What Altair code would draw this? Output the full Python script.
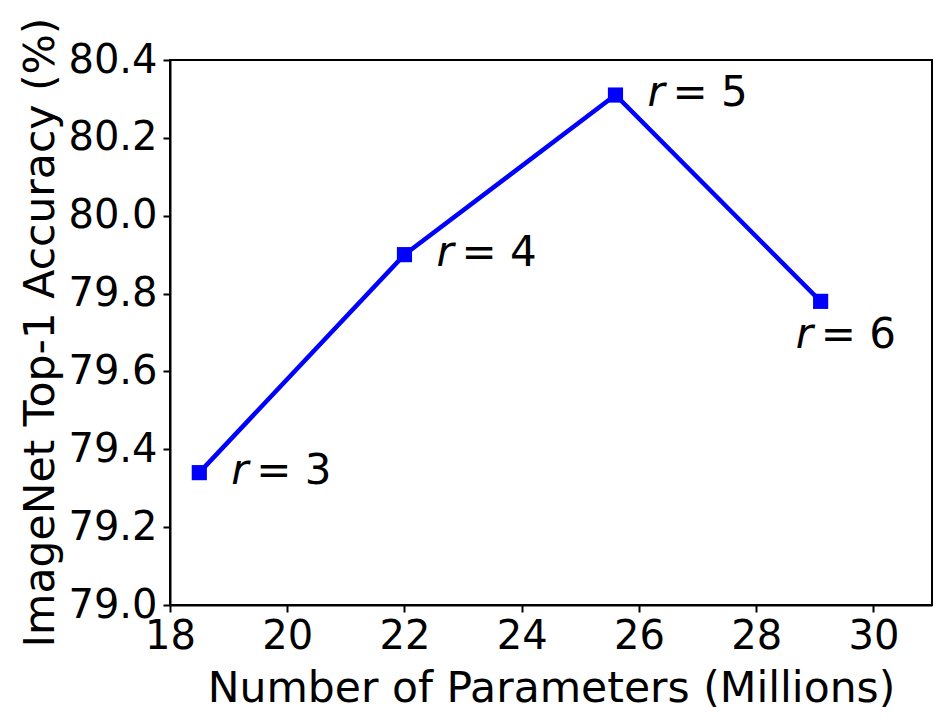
import altair as alt
import pandas as pd

params = [18.5, 22.0, 25.6, 29.1]
acc = [79.34, 79.90, 80.31, 79.78]
r_sym = ["r", "r", "r", "r"]
r_rest = ["= 3", "= 4", "= 5", "= 6"]
side = ["right", "right", "right", "below"]

x_ticks = [18, 20, 22, 24, 26, 28, 30]
y_ticks = [79.0, 79.2, 79.4, 79.6, 79.8, 80.0, 80.2, 80.4]

df = pd.DataFrame({"params": params, "acc": acc, "r": r_sym, "rest": r_rest, "side": side})

FONT = "DejaVu Sans"

x_enc = alt.X("params:Q", scale=alt.Scale(domain=[18, 31], nice=False, zero=False),
              axis=alt.Axis(values=x_ticks, title="Number of Parameters (Millions)", grid=False,
                            format="d"))
y_enc = alt.Y("acc:Q", scale=alt.Scale(domain=[79.0, 80.4], nice=False, zero=False),
              axis=alt.Axis(values=y_ticks, title="ImageNet Top-1 Accuracy (%)", grid=False,
                            format=".1f"))

base = alt.Chart(df).encode(x=x_enc, y=y_enc)

line = base.mark_line(color="#0000FF", strokeWidth=4.5)
pts = base.mark_square(color="#0000FF", size=230, opacity=1)

right = base.transform_filter(alt.datum.side == "right")
below = base.transform_filter(alt.datum.side == "below")

ann_size = 42
t1 = right.mark_text(align="left", baseline="middle", dx=32, dy=-2, font=FONT, fontSize=ann_size,
                     fontStyle="italic", color="black").encode(text="r:N")
t2 = right.mark_text(align="left", baseline="middle", dx=57, dy=-2, font=FONT, fontSize=ann_size,
                     color="black").encode(text="rest:N")
t3 = below.mark_text(align="left", baseline="middle", dx=-25, dy=34, font=FONT, fontSize=ann_size,
                     fontStyle="italic", color="black").encode(text="r:N")
t4 = below.mark_text(align="left", baseline="middle", dx=0, dy=34, font=FONT, fontSize=ann_size,
                     color="black").encode(text="rest:N")

chart = alt.layer(line, pts, t1, t2, t3, t4).properties(
    width=762, height=545,
    autosize=alt.AutoSizeParams(type="none"),
    padding={"left": 162, "top": 52, "right": 10, "bottom": 110},
    background="white",
).configure_view(
    stroke="black", strokeWidth=2
).configure_axis(
    domainColor="black", domainWidth=2, tickColor="black", tickWidth=2, tickSize=7,
    labelFont=FONT, labelFontSize=40, labelColor="black", labelFlush=False, labelOverlap=False,
    titleFont=FONT, titleFontSize=42.5, titleColor="black", titleFontWeight="normal",
).configure_axisX(
    labelPadding=4, titleY=96, titleBaseline="alphabetic"
).configure_axisY(
    labelPadding=6, titleX=-117, titleY=272, titleAngle=270, titleBaseline="alphabetic",
    titleAlign="center"
)

chart.save("out.html", embed_options={"renderer": "svg", "actions": False})
